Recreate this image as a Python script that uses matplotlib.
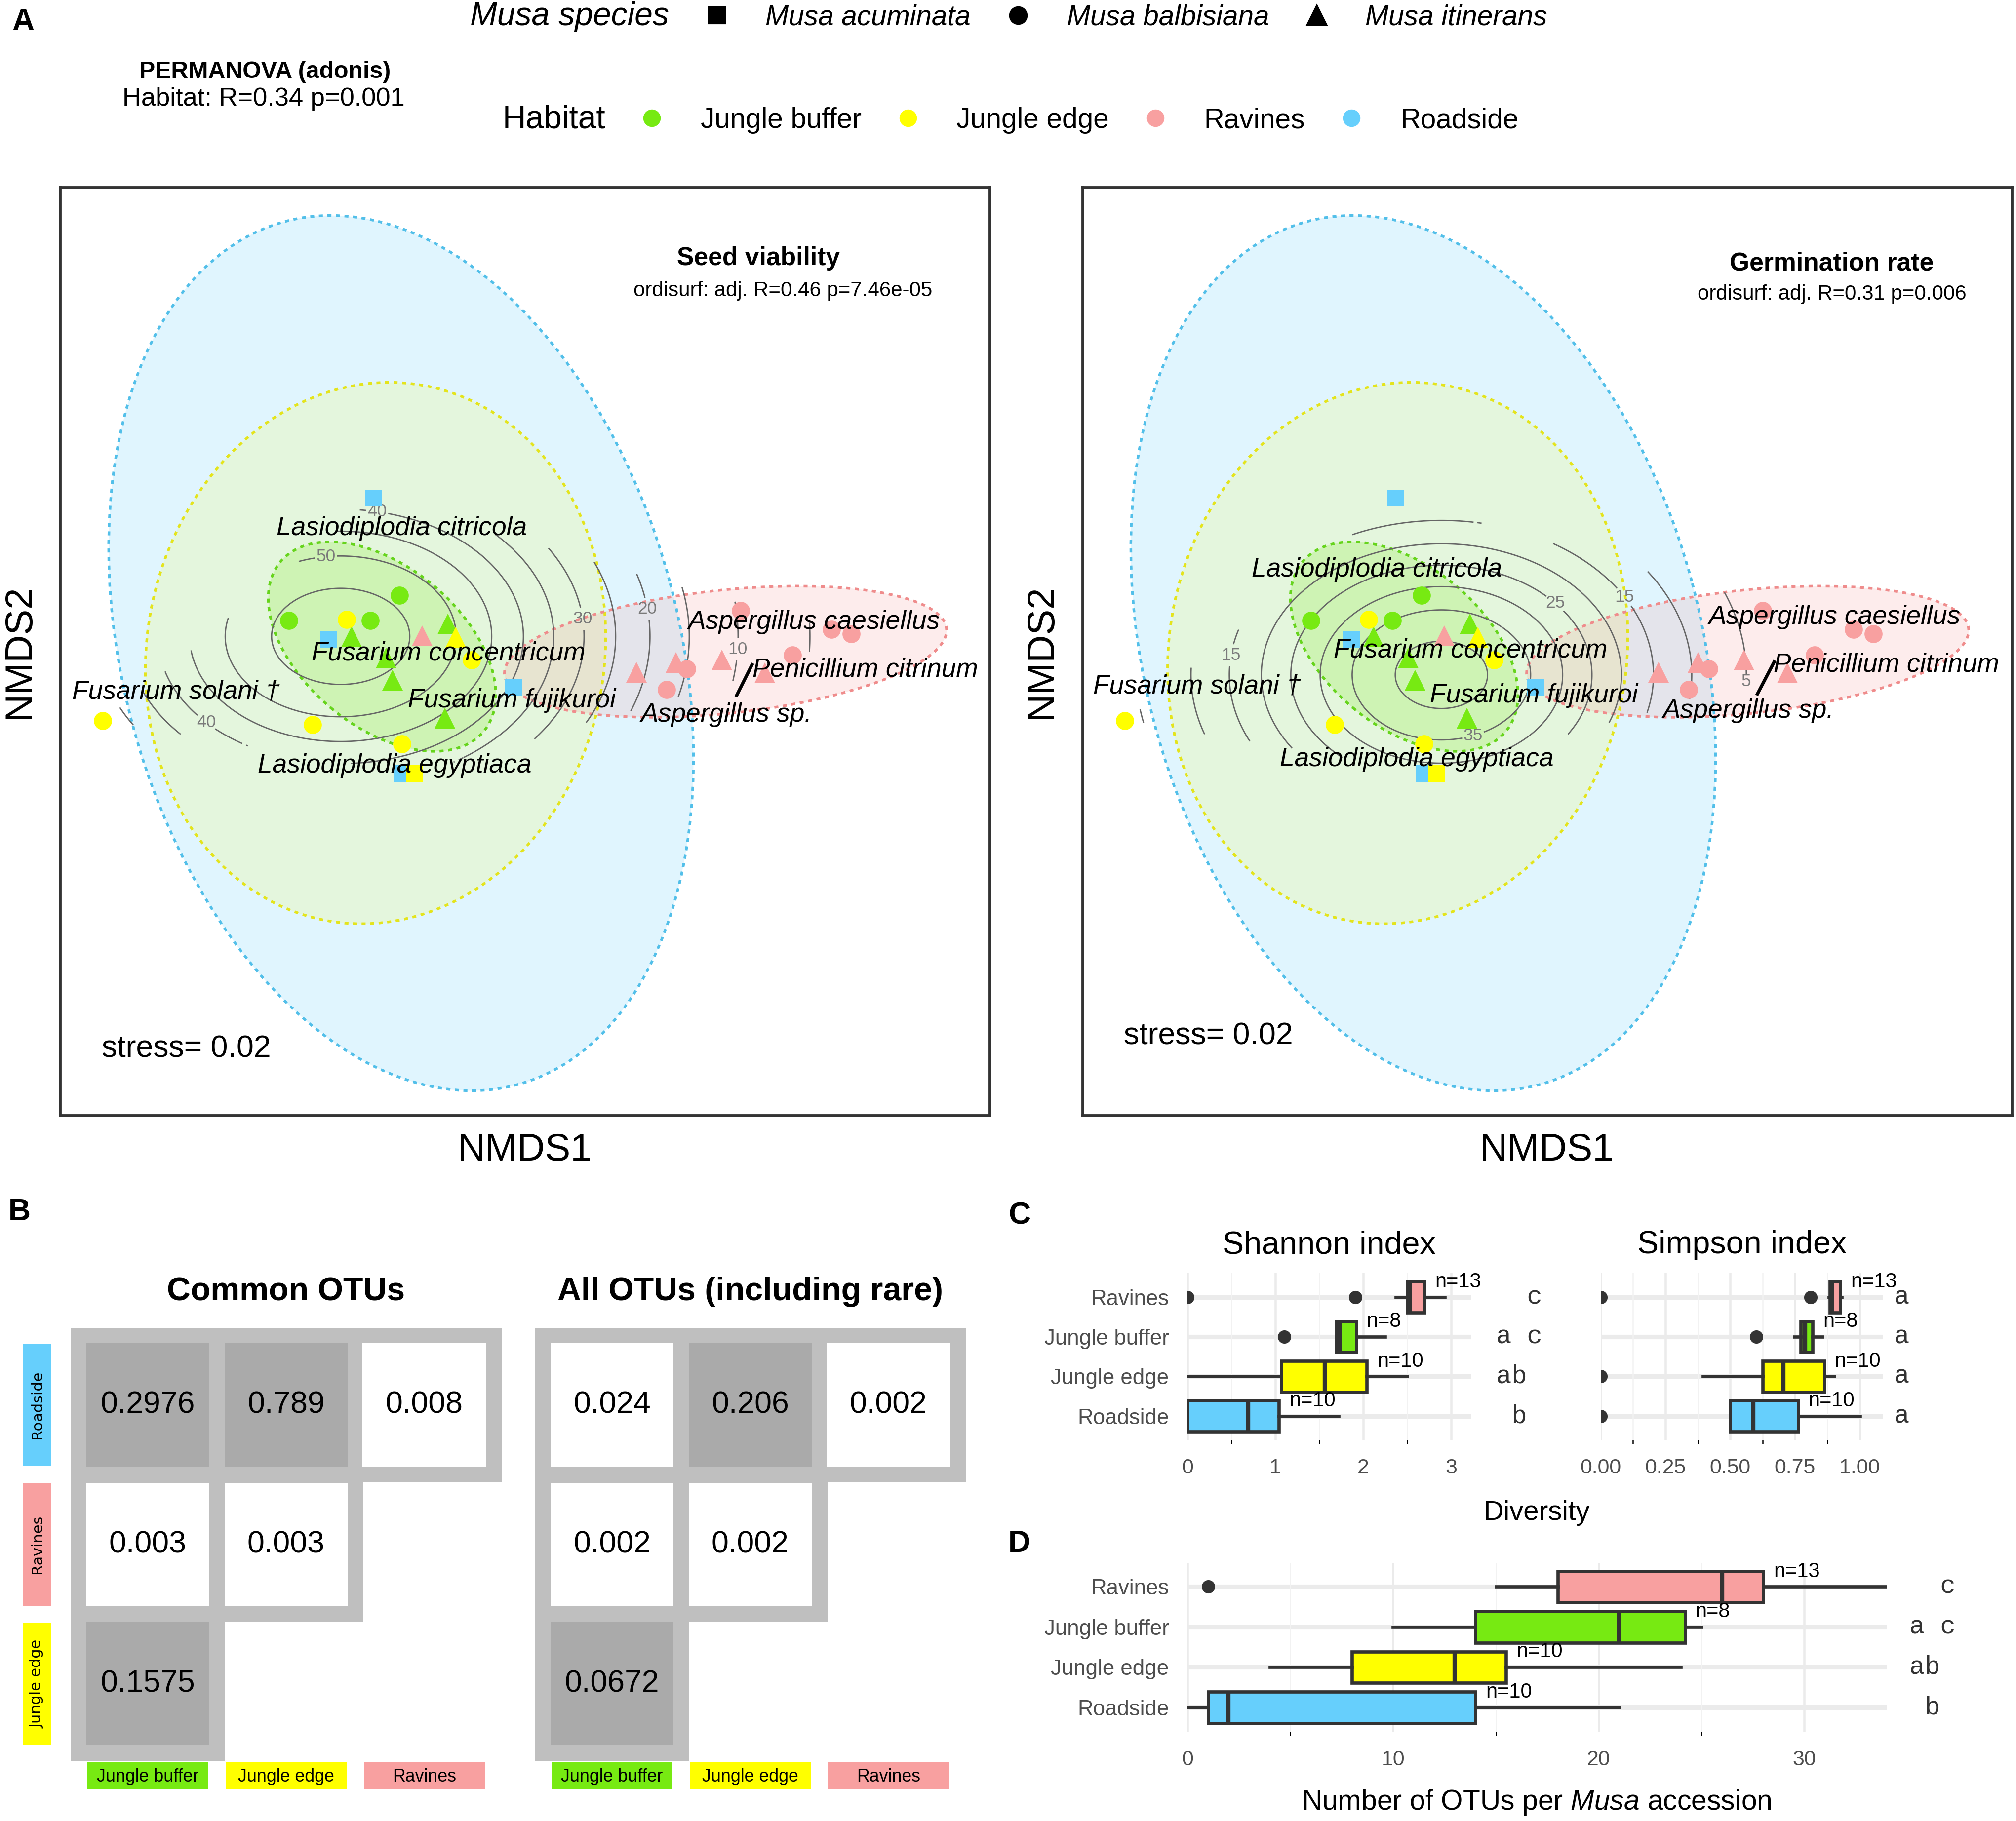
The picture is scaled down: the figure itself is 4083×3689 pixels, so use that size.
import numpy as np
import matplotlib.pyplot as plt
from matplotlib.patches import Ellipse, Rectangle
from matplotlib.lines import Line2D
from matplotlib.path import Path

plt.rcParams['font.family'] = ['Liberation Sans', 'DejaVu Sans']
plt.rcParams['mathtext.fontset'] = 'custom'
plt.rcParams['mathtext.rm'] = 'Liberation Sans'
plt.rcParams['mathtext.it'] = 'Liberation Sans:italic'

# ---------------- datos ----------------
habitats = ['Jungle buffer', 'Jungle edge', 'Ravines', 'Roadside']
hab_fill = {'Jungle buffer': '#77ea12', 'Jungle edge': '#ffff00',
            'Ravines': '#f8a0a0', 'Roadside': '#66cffc'}
hab_line = {'Jungle buffer': '#66d41c', 'Jungle edge': '#e4e41c',
            'Ravines': '#ef8c8c', 'Roadside': '#52bfe9'}
hab_alpha = {'Jungle buffer': 0.2, 'Jungle edge': 0.13, 'Ravines': 0.2, 'Roadside': 0.2}
musa_species = ['Musa acuminata', 'Musa balbisiana', 'Musa itinerans']
musa_marker = {'Musa acuminata': 's', 'Musa balbisiana': 'o', 'Musa itinerans': '^'}

# NMDS scores (same ordination in both panels)
pt_habitat = ['Roadside'] * 4 + ['Jungle buffer'] * 8 + ['Jungle edge'] * 7 + ['Ravines'] * 11
pt_musa = (['Musa acuminata'] * 4
           + ['Musa balbisiana'] * 3 + ['Musa itinerans'] * 5
           + ['Musa acuminata'] + ['Musa balbisiana'] * 5 + ['Musa itinerans']
           + ['Musa itinerans'] * 5 + ['Musa balbisiana'] * 6)
pt_nmds1 = [-0.326, -0.422, -0.025, -0.265,
            -0.509, -0.333, -0.271, -0.374, -0.299, -0.285, -0.173, -0.167,
            -0.238, -0.909, -0.458, -0.384, -0.265, -0.115, -0.150,
            -0.222, 0.239, 0.324, 0.423, 0.516, 0.463, 0.348, 0.304, 0.575, 0.659, 0.701]
pt_nmds2 = [0.331, 0.027, -0.076, -0.263,
            0.067, 0.067, 0.122, 0.032, -0.014, -0.061, -0.143, 0.060,
            -0.263, -0.149, -0.157, 0.069, -0.199, -0.018, 0.031,
            0.034, -0.044, -0.023, -0.018, -0.046, 0.088, -0.037, -0.082, -0.007, 0.048, 0.039]

# 95% ellipses per habitat
ell_habitat = ['Roadside', 'Jungle edge', 'Jungle buffer', 'Ravines']
ell_cx = [-0.267, -0.322, -0.308, 0.431]
ell_cy = [-0.003, -0.003, 0.011, 0.000]
ell_w = [1.926, 1.172, 0.570, 0.956]
ell_h = [1.196, 0.984, 0.344, 0.266]
ell_ang = [105, 80, -40, 6]

# ordisurf fitted surfaces (peak, centre, spread)
seed_surf = [58, -0.397, 0.033, 0.456, 0.318]
germ_surf = [42, -0.228, -0.050, 0.318, 0.232]
seed_levels = [5, 10, 15, 20, 25, 30, 35, 40, 45, 50, 55]
germ_levels = [5, 10, 15, 20, 25, 30, 35, 40]
seed_lab_lev = [50, 40, 40, 30, 20, 10]
seed_lab_x = [-0.427, -0.700, -0.316, 0.112, 0.347, 0.487]
seed_lab_y = [0.184, -0.170, 0.320, 0.069, 0.108, 0.003]
germ_lab_lev = [35, 25, 15, 15, 5]
germ_lab_x = [-0.158, 0.030, 0.205, -0.775, 0.441]
germ_lab_y = [-0.187, 0.120, 0.150, 0.010, -0.065]

# fungal species labels
fungi = ['Lasiodiplodia citricola', 'Fusarium concentricum', 'Fusarium fujikuroi',
         'Fusarium solani \u2020', 'Lasiodiplodia egyptiaca', 'Aspergillus caesiellus',
         'Penicillium citrinum', 'Aspergillus sp.']
seed_fx = [-0.266, -0.165, -0.029, -0.751, -0.281, 0.621, 0.732, 0.433]
seed_fy = [0.266, -0.003, -0.105, -0.086, -0.246, 0.064, -0.039, -0.136]
germ_fx = [-0.367, -0.165, -0.029, -0.754, -0.281, 0.618, 0.729, 0.433]
germ_fy = [0.177, 0.003, -0.094, -0.075, -0.232, 0.075, -0.028, -0.127]
seed_leader = [0.455, -0.094, 0.488, -0.028]
germ_leader = [0.452, -0.091, 0.488, -0.022]

# panel B: pairwise p values
pair_rows = ['Roadside', 'Ravines', 'Jungle edge']
pair_cols = ['Jungle buffer', 'Jungle edge', 'Ravines']
common_p = [[0.2976, 0.789, 0.008], [0.003, 0.003], [0.1575]]
all_p = [[0.024, 0.206, 0.002], [0.002, 0.002], [0.0672]]

# panels C and D: box statistics
box_groups = ['Ravines', 'Jungle buffer', 'Jungle edge', 'Roadside']
group_n = [13, 8, 10, 10]
shannon_lo = [2.37, 1.69, 0.00, 0.00]
shannon_q1 = [2.50, 1.69, 1.07, 0.00]
shannon_med = [2.53, 1.73, 1.56, 0.69]
shannon_q3 = [2.70, 1.92, 2.04, 1.04]
shannon_hi = [2.93, 2.25, 2.50, 1.72]
shannon_out = [[0.0, 1.91], [1.10], [], []]
shannon_letters = ['  c', 'a c', 'ab ', ' b ']

simpson_lo = [0.880, 0.747, 0.395, 0.500]
simpson_q1 = [0.885, 0.772, 0.625, 0.500]
simpson_med = [0.893, 0.790, 0.706, 0.590]
simpson_q3 = [0.925, 0.818, 0.863, 0.762]
simpson_hi = [0.930, 0.856, 0.901, 1.000]
simpson_out = [[0.0, 0.81], [0.60], [0.0], [0.0]]
simpson_letters = ['a', 'a', 'a', 'a']

otu_lo = [15, 10, 4, 0]
otu_q1 = [18, 14, 8, 1]
otu_med = [26, 21, 13, 2]
otu_q3 = [28, 24.2, 15.5, 14]
otu_hi = [34, 25, 24, 21]
otu_out = [[1], [], [], []]
otu_letters = ['  c', 'a c', 'ab ', ' b ']

# ---------------- figura ----------------
fig = plt.figure(figsize=(4083 / 300, 3689 / 300), dpi=300)
PW, PH = 1568.0, 1416.7   # layout grid (preview pixels)


def rect(x0, y0, x1, y1):
    return [x0 / PW, 1 - y1 / PH, (x1 - x0) / PW, (y1 - y0) / PH]


def fpos(x, y):
    return x / PW, 1 - y / PH


def convex_hull(xs, ys):
    pts = sorted(set(zip(xs, ys)))

    def cross(o, a, b):
        return (a[0] - o[0]) * (b[1] - o[1]) - (a[1] - o[1]) * (b[0] - o[0])
    lower, upper = [], []
    for p in pts:
        while len(lower) >= 2 and cross(lower[-2], lower[-1], p) <= 0:
            lower.pop()
        lower.append(p)
    for p in reversed(pts):
        while len(upper) >= 2 and cross(upper[-2], upper[-1], p) <= 0:
            upper.pop()
        upper.append(p)
    return lower[:-1] + upper[:-1]


hull = Path(convex_hull(pt_nmds1, pt_nmds2))


def nmds_panel(r, surf, levels, lab_lev, lab_x, lab_y, fx, fy, leader,
               title, subtitle, tpos, spos, stress_pos):
    ax = fig.add_axes(r)
    ax.set_xlim(-1, 1)
    ax.set_ylim(-1, 1)
    ax.set_xticks([])
    ax.set_yticks([])
    for s in ax.spines.values():
        s.set_linewidth(1.4)
        s.set_color('#333333')
    # ellipses
    for i, h in enumerate(ell_habitat):
        ax.add_patch(Ellipse((ell_cx[i], ell_cy[i]), ell_w[i], ell_h[i], angle=ell_ang[i],
                             facecolor=hab_fill[h], alpha=hab_alpha[h], lw=0, zorder=1))
    for i, h in enumerate(ell_habitat):
        ax.add_patch(Ellipse((ell_cx[i], ell_cy[i]), ell_w[i], ell_h[i], angle=ell_ang[i],
                             facecolor='none', edgecolor=hab_line[h], lw=1.3,
                             linestyle=(0, (1.5, 1.7)), zorder=2))
    # ordisurf contours
    gx, gy = np.meshgrid(np.linspace(-1, 1, 400), np.linspace(-1, 1, 400))
    z = surf[0] * np.exp(-((gx - surf[1]) ** 2 / (2 * surf[3] ** 2)
                           + (gy - surf[2]) ** 2 / (2 * surf[4] ** 2)))
    inside = hull.contains_points(np.c_[gx.ravel(), gy.ravel()]).reshape(gx.shape)
    z = np.ma.masked_where(~inside, z)
    plain = [lv for lv in levels if lv not in lab_lev]
    ax.contour(gx, gy, z, levels=plain, colors='#666666', linewidths=0.65, zorder=3)
    for lev in sorted(set(lab_lev)):
        cs = ax.contour(gx, gy, z, levels=[lev], colors='#666666', linewidths=0.65, zorder=3)
        spots = [(x, y) for lv, x, y in zip(lab_lev, lab_x, lab_y) if lv == lev]
        labs = ax.clabel(cs, manual=spots, inline=True, inline_spacing=3, fontsize=8.5,
                         colors='#7a7a7a', fmt='%d')
        for t in labs:
            t.set_rotation(0)
            t.set_zorder(3.5)
    # points
    for h, m, x, y in zip(pt_habitat, pt_musa, pt_nmds1, pt_nmds2):
        mk = musa_marker[m]
        ms = {'s': 8.0, 'o': 8.8, '^': 10.0}[mk]
        ax.plot(x, y, marker=mk, ms=ms, color=hab_fill[h], mec='none', ls='none', zorder=4)
    # fungi labels
    for name, x, y in zip(fungi, fx, fy):
        ax.text(x, y, name, style='italic', fontsize=12.8, ha='center', va='center', zorder=6)
    ax.plot([leader[0], leader[2]], [leader[1], leader[3]], color='black', lw=1.6, zorder=6)
    ax.text(tpos[0], tpos[1], title, transform=ax.transAxes, fontsize=12.4,
            fontweight='bold', ha='center', va='center')
    ax.text(spos[0], spos[1], subtitle, transform=ax.transAxes, fontsize=10.1,
            ha='center', va='center')
    ax.text(stress_pos[0], stress_pos[1], 'stress= 0.02', transform=ax.transAxes,
            fontsize=15, ha='center', va='center')
    return ax


nmds_panel(rect(47, 146, 770, 868), seed_surf, seed_levels, seed_lab_lev, seed_lab_x,
           seed_lab_y, seed_fx, seed_fy, seed_leader, 'Seed viability',
           'ordisurf: adj. R=0.46 p=7.46e-05', (0.751, 0.924), (0.777, 0.889), (0.1355, 0.072))
nmds_panel(rect(842, 146, 1565, 868), germ_surf, germ_levels, germ_lab_lev, germ_lab_x,
           germ_lab_y, germ_fx, germ_fy, germ_leader, 'Germination rate',
           'ordisurf: adj. R=0.31 p=0.006', (0.806, 0.918), (0.806, 0.885), (0.1355, 0.086))

for x in (408, 1203):
    fig.text(*fpos(x, 895), 'NMDS1', fontsize=18.7, ha='center', va='center')
for x in (15, 810):
    fig.text(*fpos(x, 507), 'NMDS2', fontsize=18.7, ha='center', va='center', rotation=90)

# legends of panel A
sp_handles = [Line2D([], [], ls='none')] + [
    Line2D([], [], ls='none', marker=musa_marker[m], color='black',
           ms={'s': 7.5, 'o': 8.0, '^': 9.0}[musa_marker[m]]) for m in musa_species]
leg1 = fig.legend(sp_handles, ['Musa species'] + musa_species, loc='center left',
                  bbox_to_anchor=fpos(317, 13), ncol=4, frameon=False, handlelength=1.0,
                  handletextpad=1.24, columnspacing=1.2, borderpad=0, borderaxespad=0,
                  prop={'style': 'italic', 'size': 13.6})
leg1.get_texts()[0].set_fontsize(15.8)
hab_handles = [Line2D([], [], ls='none')] + [
    Line2D([], [], ls='none', marker='o', color=hab_fill[h], ms=7.5) for h in habitats]
leg2 = fig.legend(hab_handles, ['Habitat'] + habitats, loc='center left',
                  bbox_to_anchor=fpos(342, 93), ncol=5, frameon=False, handlelength=1.0,
                  handletextpad=1.24, columnspacing=1.16, borderpad=0, borderaxespad=0,
                  prop={'size': 13.6})
leg2.get_texts()[0].set_fontsize(15.8)

fig.text(*fpos(206, 56), 'PERMANOVA (adonis)', fontsize=11.6, fontweight='bold',
         ha='center', va='center')
fig.text(*fpos(205, 77), 'Habitat: R=0.34 p=0.001', fontsize=12.6, ha='center', va='center')

# panel letters
for lab, x, y in [('A', 18, 17), ('B', 15, 943), ('C', 793, 946), ('D', 793, 1201)]:
    fig.text(*fpos(x, y), lab, fontsize=15, fontweight='bold', ha='center', va='center')


# ---------------- panel B ----------------
def pair_matrix(r, pvals, title, row_labels):
    ax = fig.add_axes(r)
    ax.set_xlim(-0.058, 3.058)
    ax.set_ylim(3.053, -0.053)
    ax.axis('off')
    for i, row in enumerate(pvals):
        for j, p in enumerate(row):
            ax.add_patch(Rectangle((j - 0.058, i - 0.053), 1.116, 1.106,
                                   fc='#bfbfbf', lw=0, zorder=1))
    for i, row in enumerate(pvals):
        for j, p in enumerate(row):
            face = '#aaaaaa' if p > 0.05 else 'white'
            ax.add_patch(Rectangle((j + 0.054, i + 0.058), 0.892, 0.884, fc=face, lw=0, zorder=2))
            ax.text(j + 0.5, i + 0.5, str(p), fontsize=15, ha='center', va='center', zorder=3)
    if row_labels:
        for i, name in enumerate(pair_rows):
            ax.add_patch(Rectangle((-0.402, i + 0.06), 0.204, 0.88, fc=hab_fill[name],
                                   lw=0, clip_on=False))
            ax.text(-0.30, i + 0.5, name, rotation=90, fontsize=7.3, family='DejaVu Sans',
                    ha='center', va='center', clip_on=False)
    for j, name in enumerate(pair_cols):
        ax.add_patch(Rectangle((j + 0.063, 3.062), 0.874, 0.194, fc=hab_fill[name],
                               lw=0, clip_on=False))
        ax.text(j + 0.5, 3.165, name, fontsize=8.6, ha='center', va='center', clip_on=False)
    ax.text(1.5, -0.31, title, fontsize=15.9, fontweight='bold', ha='center', va='center')


pair_matrix(rect(55, 1033, 390, 1370), common_p, 'Common OTUs', True)
pair_matrix(rect(416, 1033, 751, 1370), all_p, 'All OTUs (including rare)', False)


# ---------------- panels C and D ----------------
def box_panel(r, lo, q1, med, q3, hi, out, xmax, ticks, minor, ticklabels,
              letters, letter_x, show_y):
    ax = fig.add_axes(r)
    pos = [3, 2, 1, 0]
    stats = [dict(whislo=lo[i], q1=q1[i], med=med[i], q3=q3[i], whishi=hi[i],
                  fliers=out[i]) for i in range(4)]
    ax.set_xlim(0, xmax)
    ax.set_ylim(-0.6, 3.6)
    ax.set_axisbelow(True)
    ax.set_xticks(ticks, ticklabels)
    ax.set_xticks(minor, minor=True)
    ax.grid(axis='x', which='major', color='#ebebeb', lw=1.1)
    ax.grid(axis='x', which='minor', color='#f2f2f2', lw=0.6)
    for p in pos:
        ax.axhline(p, color='#ebebeb', lw=2.2, zorder=0)
    bp = ax.bxp(stats, positions=pos, widths=0.78, orientation='horizontal',
                patch_artist=True, showcaps=False,
                boxprops=dict(edgecolor='#333333', linewidth=1.6),
                medianprops=dict(color='#333333', linewidth=2.0),
                whiskerprops=dict(color='#333333', linewidth=1.6),
                flierprops=dict(marker='o', markerfacecolor='#333333',
                                markeredgecolor='none', markersize=6.5))
    for patch, g in zip(bp['boxes'], box_groups):
        patch.set_facecolor(hab_fill[g])
    for i, p in enumerate(pos):
        ax.annotate('n=%d' % group_n[i], xy=(q3[i], p + 0.38), xytext=(5, 0),
                    textcoords='offset points', ha='left', va='center', fontsize=10)
        ax.text(letter_x, p, letters[i], family='Liberation Mono', fontsize=12.5,
                color='#333333', ha='left', va='center', clip_on=False)
    ax.set_yticks(pos, box_groups if show_y else [])
    ax.tick_params(length=0, labelsize=10.3, labelcolor='#4d4d4d', pad=9)
    ax.tick_params(axis='y', labelsize=10.5, pad=9)
    for s in ax.spines.values():
        s.set_visible(False)
    return ax


axS = box_panel(rect(923.6, 990.6, 1144, 1120.2), shannon_lo, shannon_q1, shannon_med,
                shannon_q3, shannon_hi, shannon_out, 3.225, [0, 1, 2, 3], [0.5, 1.5, 2.5],
                ['0', '1', '2', '3'], shannon_letters, 3.51, True)
axS.text(0.5, 1.17, 'Shannon index', transform=axS.transAxes, fontsize=15.5,
         ha='center', va='center')
axP = box_panel(rect(1245, 990.6, 1464.6, 1120.2), simpson_lo, simpson_q1, simpson_med,
                simpson_q3, simpson_hi, simpson_out, 1.09, [0, 0.25, 0.5, 0.75, 1.0],
                [0.125, 0.375, 0.625, 0.875], ['0.00', '0.25', '0.50', '0.75', '1.00'],
                simpson_letters, 1.131, False)
axP.text(0.5, 1.17, 'Simpson index', transform=axP.transAxes, fontsize=15.5,
         ha='center', va='center')
fig.text(*fpos(1195, 1177), 'Diversity', fontsize=13.5, ha='center', va='center')

axD = box_panel(rect(923.6, 1215.7, 1467.3, 1347.1), otu_lo, otu_q1, otu_med, otu_q3,
                otu_hi, otu_out, 34, [0, 10, 20, 30], [5, 15, 25], ['0', '10', '20', '30'],
                otu_letters, 35.1, True)
fig.text(*fpos(1195, 1402), r'Number of OTUs per $\mathit{Musa}$ accession', fontsize=13.7,
         ha='center', va='center')

fig.savefig('out.png', dpi=300)
